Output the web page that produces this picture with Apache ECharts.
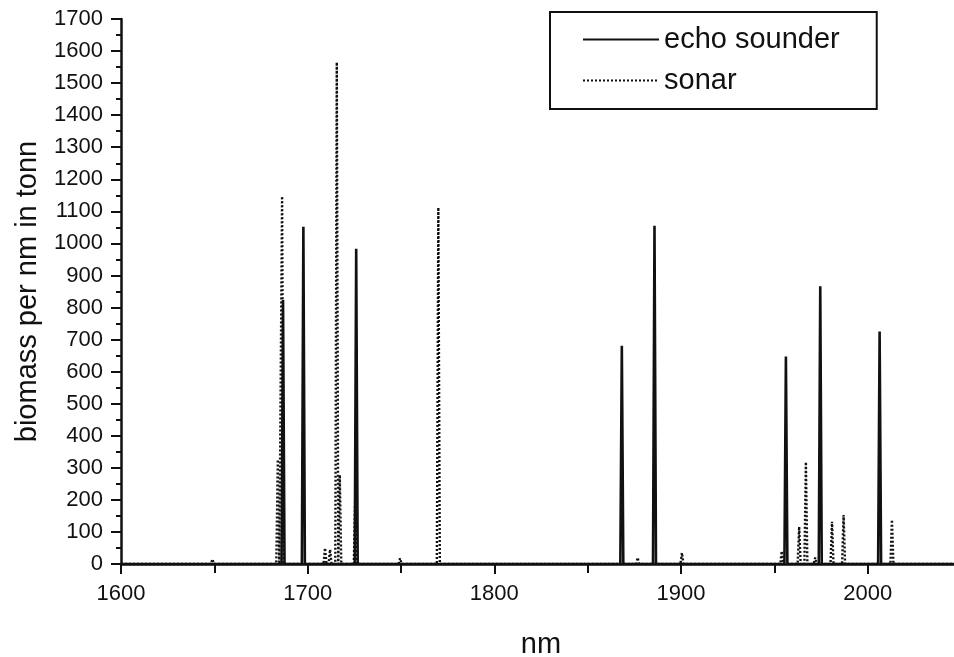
<!DOCTYPE html>
<html>
<head>
<meta charset="utf-8">
<title>biomass per nm</title>
<script src="https://cdn.jsdelivr.net/npm/echarts@6/dist/echarts.min.js"></script>
<style>
  html, body { margin: 0; padding: 0; background: #fff; }
  #chart { width: 954px; height: 657px; }
</style>
</head>
<body>
<div id="chart"></div>
<script>
// peak positions (nm) and heights (tonn per nm)
const echoPos    = [1686.8, 1697.7, 1726.0, 1868.3, 1885.8, 1956.2, 1974.6, 2006.4]
const echoHeight = [824,    1052,   983,    681,    1055,   647,    866,    725]

const sonarPos    = [1649, 1684, 1686.3, 1709.3, 1712, 1715.6, 1717.2, 1725.5, 1749.5, 1770,
                     1876.8, 1900.5, 1954, 1963.3, 1966.9, 1971.9, 1980.9, 1987.1, 2013]
const sonarHeight = [15,   326,  1147,   50,     45,   1565,   278,    209,    18,     1112,
                     20,     35,     40,   116,    318,    20,     132,    153,    138]

const xTicks = [1600, 1700, 1800, 1900, 2000]
const X_MIN = 1600, X_MAX = 2050
const HALF = 0.8   // half width of a peak foot, nm

const FONT = '"Liberation Sans", Arial, Helvetica, sans-serif'
const INK = '#111'

// line trace that sits on zero and rises to each peak
function trace(pos, h) {
  const pts = [[X_MIN, 0]]
  pos.forEach((x, i) => {
    pts.push([x - HALF, 0], [x, h[i]], [x + HALF, 0])
  })
  pts.push([X_MAX, 0])
  return pts
}

const chart = echarts.init(document.getElementById('chart'))
chart.setOption({
  animation: false,
  color: [INK, INK],
  grid: { left: 121, right: -7, top: 19, bottom: 93, outerBoundsMode: 'none' },
  legend: {
    orient: 'vertical',
    left: 550, top: 12,
    padding: [13, 37, 14, 32],
    itemWidth: 76, itemHeight: 28, itemGap: 12,
    borderColor: INK, borderWidth: 2,
    selectedMode: false,
    itemStyle: { opacity: 0 },
    textStyle: { fontSize: 29, fontFamily: FONT, color: INK },
    data: ['echo sounder', 'sonar'],
  },
  xAxis: {
    type: 'value',
    min: X_MIN, max: X_MAX, interval: 100,
    name: 'nm', nameLocation: 'middle', nameGap: 66,
    nameTextStyle: { fontSize: 29, fontFamily: FONT, color: INK },
    axisLine: { lineStyle: { color: INK, width: 2.5 } },
    axisTick: { length: 10, lineStyle: { color: INK, width: 2 } },
    minorTick: { show: true, splitNumber: 2, length: 9, lineStyle: { color: INK, width: 2 } },
    axisLabel: {
      fontSize: 22, fontFamily: FONT, color: INK, margin: 19,
      formatter: v => xTicks.includes(v) ? String(v) : '',
    },
    splitLine: { show: false },
  },
  yAxis: {
    type: 'value',
    min: 0, max: 1700, interval: 100,
    name: 'biomass per nm in tonn', nameLocation: 'middle', nameGap: 79,
    nameTextStyle: { fontSize: 29, fontFamily: FONT, color: INK },
    axisLine: { show: true, lineStyle: { color: INK, width: 2.5 } },
    axisTick: { show: true, length: 10, lineStyle: { color: INK, width: 2 } },
    minorTick: { show: true, splitNumber: 2, length: 5, lineStyle: { color: INK, width: 2 } },
    axisLabel: { fontSize: 22, fontFamily: FONT, color: INK, margin: 18, formatter: v => String(v) },
    splitLine: { show: false },
  },
  series: [
    {
      name: 'sonar',
      type: 'line',
      symbol: 'none',
      data: trace(sonarPos, sonarHeight),
      itemStyle: { color: INK },
      lineStyle: { color: INK, width: 2.4, type: [2, 2] },
      z: 2,
    },
    {
      name: 'echo sounder',
      type: 'line',
      symbol: 'none',
      data: trace(echoPos, echoHeight),
      itemStyle: { color: INK },
      lineStyle: { color: INK, width: 2.6 },
      z: 3,
    },
  ],
})
</script>
</body>
</html>
